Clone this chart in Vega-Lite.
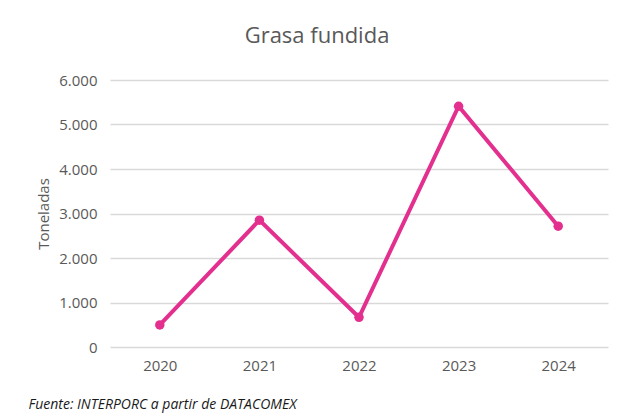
{
  "$schema": "https://vega.github.io/schema/vega-lite/v6.json",
  "width": 498,
  "height": 267,
  "autosize": "none",
  "padding": {"left": 110, "top": 80, "right": 15, "bottom": 69},
  "background": "white",
  "title": {
    "text": "Grasa fundida",
    "font": "Open Sans",
    "fontSize": 22,
    "fontWeight": "normal",
    "color": "#595959",
    "anchor": "middle",
    "frame": "group",
    "dx": -42,
    "offset": 25
  },
  "data": {
    "values": [
      {"year": "2020", "value": 495},
      {"year": "2021", "value": 2850},
      {"year": "2022", "value": 668},
      {"year": "2023", "value": 5410},
      {"year": "2024", "value": 2715}
    ]
  },
  "encoding": {
    "x": {
      "field": "year",
      "type": "ordinal",
      "axis": {
        "labelAngle": 0,
        "labelFont": "Open Sans",
        "labelFontSize": 15,
        "labelColor": "#595959",
        "labelPadding": 11,
        "ticks": false,
        "domain": false,
        "grid": false,
        "title": "Fuente: INTERPORC  a partir de DATACOMEX",
        "titleFont": "Open Sans",
        "titleFontSize": 14,
        "titleFontStyle": "italic",
        "titleFontWeight": "normal",
        "titleColor": "#1a1a1a",
        "titleX": -82,
        "titleY": 57,
        "titleAlign": "left",
        "titleBaseline": "middle",
        "titleAnchor": "start"
      }
    },
    "y": {
      "field": "value",
      "type": "quantitative",
      "scale": {"domain": [0, 6000]},
      "axis": {
        "values": [0, 1000, 2000, 3000, 4000, 5000, 6000],
        "labelExpr": "replace(format(datum.value, ','), ',', '.')",
        "labelFont": "Open Sans",
        "labelFontSize": 15,
        "labelColor": "#595959",
        "labelPadding": 13,
        "ticks": false,
        "domain": false,
        "grid": true,
        "gridColor": "#d9d9d9",
        "gridWidth": 1.5,
        "title": "Toneladas",
        "titleFont": "Open Sans",
        "titleFontSize": 15,
        "titleFontWeight": "normal",
        "titleColor": "#595959",
        "titlePadding": 7
      }
    }
  },
  "layer": [
    {"mark": {"type": "line", "color": "#E3308F", "strokeWidth": 4}},
    {"mark": {"type": "point", "filled": true, "color": "#E3308F", "size": 90, "opacity": 1}}
  ],
  "config": {"view": {"stroke": null}}
}
